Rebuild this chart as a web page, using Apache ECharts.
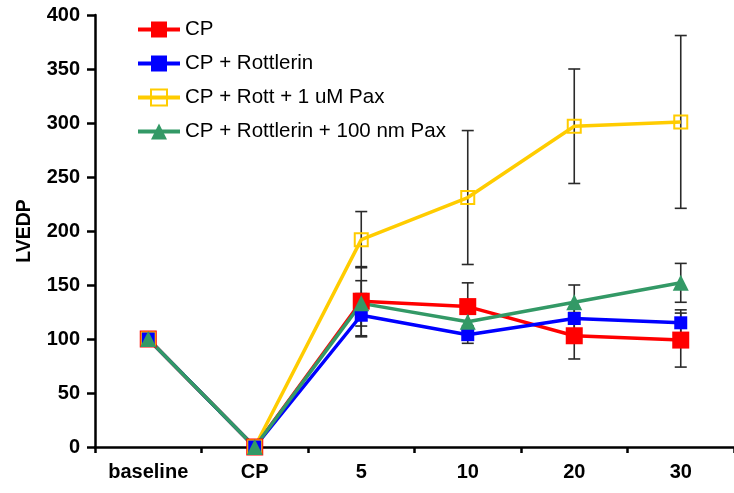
<!DOCTYPE html>
<html>
<head>
<meta charset="utf-8">
<script src="https://cdn.jsdelivr.net/npm/echarts@6/dist/echarts.min.js"></script>
<style>
  html, body { margin: 0; padding: 0; background: #fff; }
  #chart { width: 734px; height: 493px; }
</style>
</head>
<body>
<div id="chart"></div>
<script>
// Time points along the x axis
const categories = ['baseline', 'CP', '5', '10', '20', '30'];
const yTicks = { min: 0, max: 400, interval: 50 };

// LVEDP means per group
const cpValues       = [100, 0, 135, 130, 103, 99];
const rottValues     = [100, 0, 122, 104, 119, 115];
const pax1uMValues   = [100, 0, 192, 231, 297, 301];
const pax100nMValues = [100, 0, 133, 116, 134, 152];

// Error bar half-widths (0 = no bar drawn)
const cpErr       = [0, 0, 32, 22, 21.5, 25];
const rottErr     = [0, 0, 20, 8, 10, 12];
const pax1uMErr   = [0, 0, 26, 62, 53, 80];
const pax100nMErr = [0, 0, 21, 10, 16, 18];

const seriesNames = ['CP', 'CP + Rottlerin', 'CP + Rott + 1 uM Pax', 'CP + Rottlerin + 100 nm Pax'];

const FONT = '"Liberation Sans", Arial, Helvetica, sans-serif';

function errorData(values, errs) {
  const out = [];
  values.forEach((v, i) => {
    if (errs[i] > 0) out.push([i, v - errs[i], v + errs[i]]);
  });
  return out;
}

function errorSeries(values, errs) {
  return {
    type: 'custom',
    z: 1,
    silent: true,
    data: errorData(values, errs),
    encode: { x: 0, y: [1, 2] },
    renderItem(params, api) {
      const i = api.value(0);
      const top = api.coord([i, api.value(2)]);
      const bot = api.coord([i, api.value(1)]);
      const hw = 6;
      const style = { stroke: '#2a2a2a', lineWidth: 1.6 };
      return {
        type: 'group',
        children: [
          { type: 'line', shape: { x1: top[0], y1: top[1], x2: bot[0], y2: bot[1] }, style },
          { type: 'line', shape: { x1: top[0] - hw, y1: top[1], x2: top[0] + hw, y2: top[1] }, style },
          { type: 'line', shape: { x1: bot[0] - hw, y1: bot[1], x2: bot[0] + hw, y2: bot[1] }, style }
        ]
      };
    }
  };
}

function lineSeries(name, values, color, symbol, size, itemStyle) {
  return {
    name,
    type: 'line',
    z: 3,
    data: values,
    symbol,
    symbolSize: size,
    showAllSymbol: true,
    lineStyle: { color, width: 3.5 },
    itemStyle: Object.assign({ color, opacity: 1 }, itemStyle || {}),
    emphasis: { disabled: true }
  };
}

const chart = echarts.init(document.getElementById('chart'), null, { renderer: 'canvas' });

chart.setOption({
  animation: false,
  backgroundColor: '#fff',
  grid: { left: 95, right: 0, top: 15, bottom: 46, containLabel: false },
  legend: {
    orient: 'vertical',
    left: 136,
    top: 19,
    padding: 0,
    itemWidth: 42,
    itemHeight: 20,
    itemGap: 13,
    data: seriesNames,
    selectedMode: false,
    lineStyle: { width: 4 },
    textStyle: { fontFamily: FONT, fontSize: 20.5, color: '#000' }
  },
  xAxis: {
    type: 'category',
    data: categories,
    boundaryGap: true,
    axisLine: { lineStyle: { color: '#000', width: 2.5 } },
    axisTick: { show: true, length: 6, lineStyle: { color: '#000', width: 2.5 } },
    axisLabel: { fontFamily: FONT, fontSize: 20, fontWeight: 'bold', color: '#000', margin: 15 },
    splitLine: { show: false }
  },
  yAxis: {
    type: 'value',
    min: yTicks.min,
    max: yTicks.max,
    interval: yTicks.interval,
    name: 'LVEDP',
    nameLocation: 'middle',
    nameGap: 60,
    nameRotate: 90,
    nameTextStyle: { fontFamily: FONT, fontSize: 19.5, fontWeight: 'bold', color: '#000' },
    axisLine: { show: true, lineStyle: { color: '#000', width: 2.5 } },
    axisTick: { show: true, length: 8, lineStyle: { color: '#000', width: 2.5 } },
    axisLabel: { fontFamily: FONT, fontSize: 20, fontWeight: 'bold', color: '#000', margin: 15 },
    splitLine: { show: false }
  },
  series: [
    errorSeries(cpValues, cpErr),
    errorSeries(rottValues, rottErr),
    errorSeries(pax1uMValues, pax1uMErr),
    errorSeries(pax100nMValues, pax100nMErr),
    lineSeries(seriesNames[0], cpValues, '#FF0000', 'rect', 17),
    lineSeries(seriesNames[2], pax1uMValues, '#FFCC00', 'rect', 13,
      { color: 'rgba(255,255,255,0)', borderColor: '#FFCC00', borderWidth: 2 }),
    lineSeries(seriesNames[1], rottValues, '#0000FF', 'rect', 13),
    lineSeries(seriesNames[3], pax100nMValues, '#339966', 'triangle', 16)
  ]
});
</script>
</body>
</html>
